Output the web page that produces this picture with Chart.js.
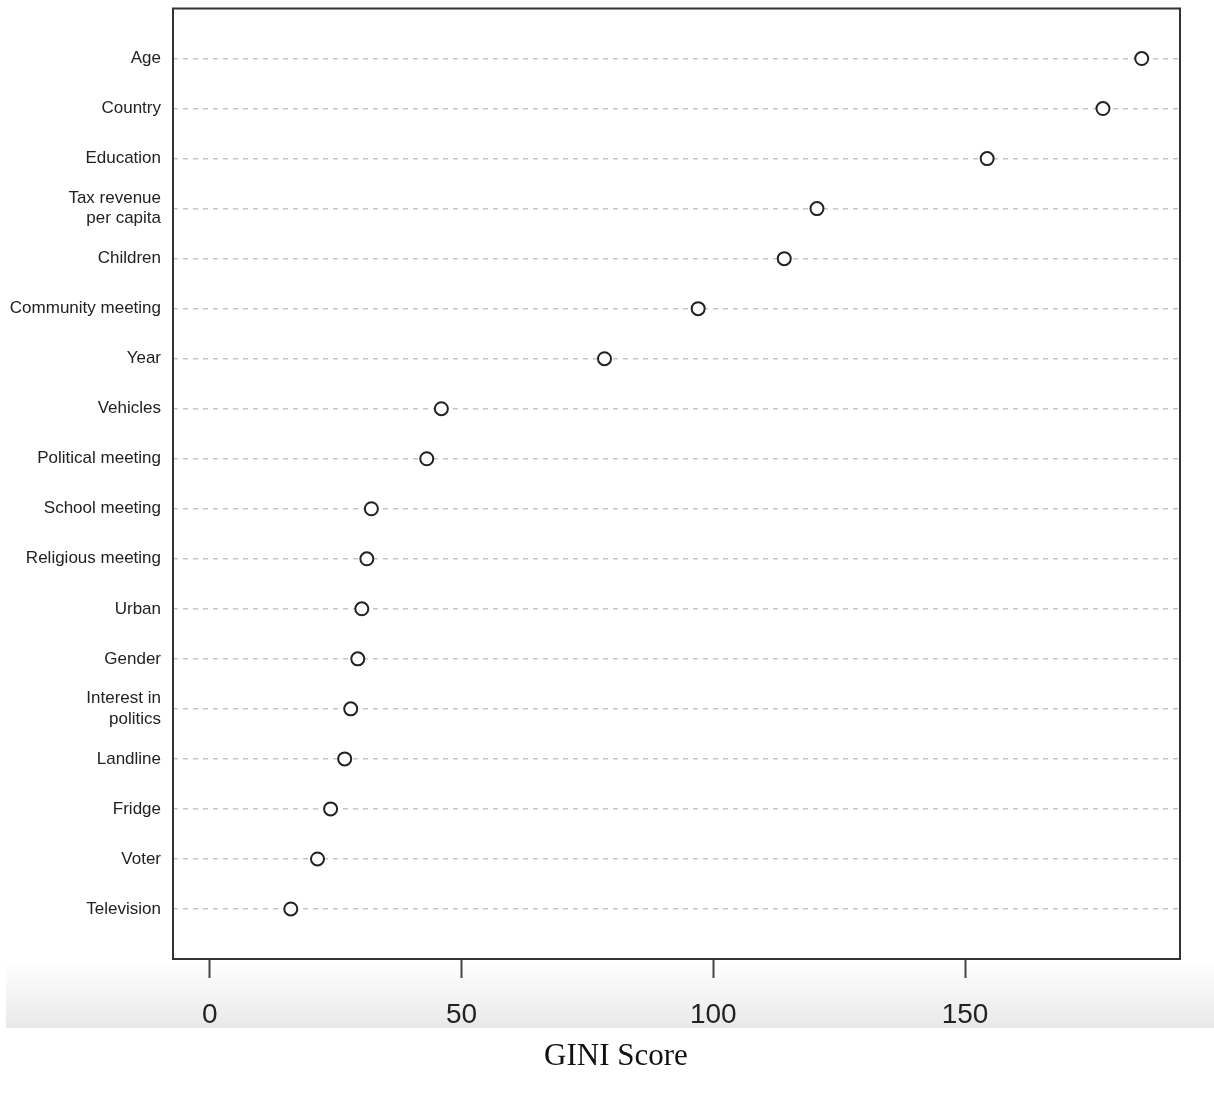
<!DOCTYPE html>
<html>
<head>
<meta charset="utf-8">
<script src="https://cdn.jsdelivr.net/npm/chart.js@4/dist/chart.umd.min.js"></script>
<style>
  body { margin: 0; background: #fff; }
  #wrap { width: 1214px; height: 1098px; position: relative; }
</style>
</head>
<body>
<div id="wrap"><canvas id="dotChart"></canvas></div>
<script>
// variables, top to bottom as in the figure
var variables = ["Age", "Country", "Education", ["Tax revenue", "per capita"], "Children",
    "Community meeting", "Year", "Vehicles", "Political meeting", "School meeting",
    "Religious meeting", "Urban", "Gender", ["Interest in", "politics"], "Landline",
    "Fridge", "Voter", "Television"];

// GINI score for each variable
var giniScores = [185.1, 177.4, 154.4, 120.6, 114.1, 97.0, 78.4, 46.0, 43.1, 32.1,
    31.2, 30.2, 29.4, 28.0, 26.8, 24.0, 21.4, 16.1];

var xTicks = [0, 50, 100, 150];
var xTitle = "GINI Score";

var points = [];
for (var i = 0; i < giniScores.length; i++) {
    points.push({ x: giniScores[i], y: i + 1 });
}

// white page + the grey strip behind the x axis
var bgPlugin = {
    id: "bg",
    beforeDraw: function (chart) {
        var ctx = chart.ctx;
        ctx.save();
        ctx.fillStyle = "#ffffff";
        ctx.fillRect(0, 0, chart.width, chart.height);
        var g = ctx.createLinearGradient(0, 961, 0, 1028);
        g.addColorStop(0, "#ffffff");
        g.addColorStop(1, "#e9e9e9");
        ctx.fillStyle = g;
        ctx.fillRect(6, 961, chart.width - 6, 67);
        ctx.restore();
    }
};

// frame round the plotting area, and the axis title under the grey strip
var boxPlugin = {
    id: "box",
    afterDraw: function (chart) {
        var a = chart.chartArea;
        var ctx = chart.ctx;
        ctx.save();
        ctx.strokeStyle = "#333333";
        ctx.lineWidth = 2;
        ctx.strokeRect(a.left, a.top, a.right - a.left, a.bottom - a.top);
        ctx.fillStyle = "#111111";
        ctx.font = "31px 'Liberation Serif'";
        ctx.textAlign = "center";
        ctx.textBaseline = "middle";
        ctx.fillText(xTitle, 616, 1057);
        ctx.restore();
    }
};

var config = {
    type: "scatter",
    data: {
        datasets: [{
            data: points,
            pointRadius: 6.5,
            pointHoverRadius: 6.5,
            borderWidth: 2,
            borderColor: "#222222",
            backgroundColor: "#ffffff"
        }]
    },
    options: {
        responsive: true,
        maintainAspectRatio: false,
        animation: false,
        layout: { padding: { top: 8, right: 34, left: 0, bottom: 70 } },
        plugins: {
            legend: { display: false },
            tooltip: { enabled: false },
            title: { display: false }
        },
        scales: {
            x: {
                type: "linear",
                min: -7.3,
                max: 192.7,
                afterBuildTicks: function (scale) {
                    scale.ticks = xTicks.map(function (v) { return { value: v }; });
                },
                afterFit: function (scale) {
                    scale.height = 69;
                    scale.paddingLeft = 0;
                    scale.paddingRight = 0;
                },
                border: { display: false },
                grid: {
                    drawOnChartArea: false,
                    drawTicks: true,
                    tickLength: 19,
                    tickWidth: 2,
                    tickColor: "#444444"
                },
                ticks: {
                    color: "#222222",
                    padding: 20,
                    maxRotation: 0,
                    font: { family: "Liberation Sans", size: 28 }
                }
            },
            y: {
                type: "linear",
                reverse: true,
                min: 0,
                max: 19,
                afterFit: function (scale) {
                    scale.width = 173;
                    scale.paddingTop = 0;
                    scale.paddingBottom = 0;
                },
                border: { display: false, dash: [5, 5] },
                grid: {
                    drawTicks: false,
                    tickLength: 0,
                    lineWidth: 1.5,
                    color: function (c) {
                        if (c.tick && (c.tick.value <= 0 || c.tick.value >= 19)) return "rgba(0,0,0,0)";
                        return "#c4c4c4";
                    }
                },
                ticks: {
                    stepSize: 1,
                    autoSkip: false,
                    padding: 12,
                    color: "#222222",
                    font: { family: "Liberation Sans", size: 17 },
                    callback: function (v) {
                        if (v >= 1 && v <= variables.length) return variables[v - 1];
                        return "";
                    }
                }
            }
        }
    },
    plugins: [bgPlugin, boxPlugin]
};

new Chart(document.getElementById("dotChart"), config);
</script>
</body>
</html>
